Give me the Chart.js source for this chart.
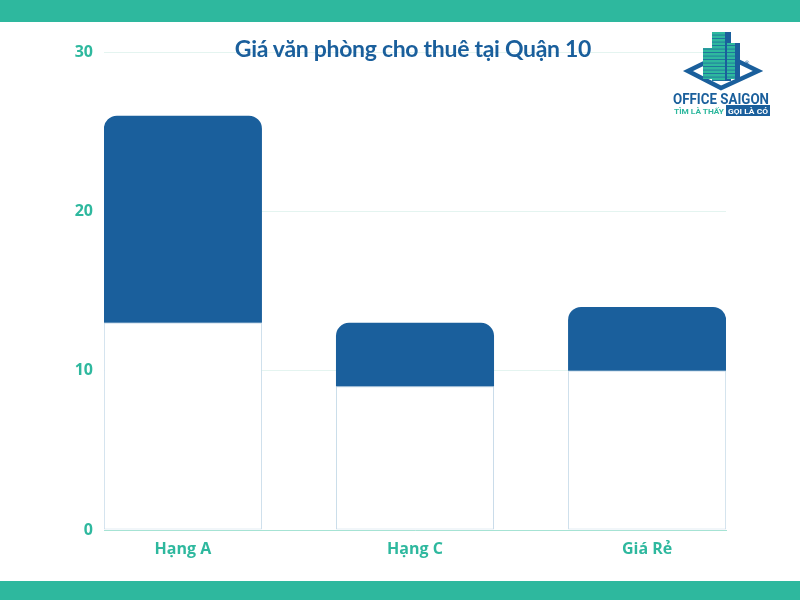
<!DOCTYPE html>
<html>
<head>
<meta charset="utf-8">
<script src="https://cdn.jsdelivr.net/npm/chart.js@4"></script>
<style>
  html, body { margin:0; padding:0; background:#ffffff; }
  #wrap { position:relative; width:800px; height:600px; overflow:hidden; background:#fff; }
  #chartBox { position:absolute; left:0; top:0; width:800px; height:600px; }
  .band { position:absolute; left:0; width:800px; background:#2eb89e; }
  #title { position:absolute; left:0; width:826px; top:34px; text-align:center;
           font-family:Lato, "Open Sans", sans-serif; font-weight:700; font-size:23px;
           color:#1a5f9c; letter-spacing:-0.3px; }
  #logo { position:absolute; left:660px; top:25px; }
</style>
</head>
<body>
<div id="wrap">
  <div id="chartBox"><canvas id="c"></canvas></div>
  <div class="band" style="top:0;height:22px;"></div>
  <div class="band" style="top:581px;height:19px;"></div>
  <div id="title">Giá văn phòng cho thuê tại Quận 10</div>
  <svg id="logo" width="140" height="110" viewBox="0 0 140 110">
    <defs>
      <pattern id="stripes" width="4" height="3.5" patternUnits="userSpaceOnUse">
        <rect width="4" height="3.5" fill="#2eb89e"/>
        <rect y="2.8" width="4" height="0.7" fill="#1a5f9c"/>
      </pattern>
    </defs>
    <polygon points="28,46 63,29 98,46 61,63" fill="none" stroke="#1a5f9c" stroke-width="4.5" stroke-linejoin="miter"/>
    <rect x="43" y="23" width="10" height="31" fill="url(#stripes)"/>
    <rect x="52" y="7" width="19" height="49" fill="url(#stripes)"/>
    <rect x="65" y="7" width="6" height="49" fill="#1a5f9c"/>
    <rect x="67" y="18" width="13" height="36" fill="url(#stripes)"/>
    <rect x="75" y="18" width="5" height="36" fill="#1a5f9c"/>
    <text x="84" y="40" font-family="DejaVu Sans" font-size="6" fill="#1a5f9c">®</text>
    <text x="13" y="79" font-family="'Liberation Sans Narrow', Roboto, sans-serif" font-weight="700" font-size="14" fill="#1a5f9c" textLength="96" lengthAdjust="spacingAndGlyphs">OFFICE SAIGON</text>
    <text x="14" y="89" font-family="Roboto, sans-serif" font-weight="700" font-size="8" fill="#2eb89e" textLength="50" lengthAdjust="spacingAndGlyphs">TÌM LÀ THẤY</text>
    <rect x="66" y="80" width="44" height="11" fill="#1a5f9c"/>
    <text x="68" y="89" font-family="Roboto, sans-serif" font-weight="700" font-size="8" fill="#ffffff" textLength="40" lengthAdjust="spacingAndGlyphs">GỌI LÀ CÓ</text>
  </svg>
</div>
<script>
const categories = ['Hạng A', 'Hạng C', 'Giá Rẻ'];
const lowValues  = [13, 9, 10];
const highValues = [26, 13, 14];
const yTicks = [0, 10, 20, 30];

const teal = '#2eb89e';
const blue = '#1a5f9c';
const tickFont = { family: '"Open Sans", "Noto Sans", sans-serif', weight: '700', size: 16 };

const positions = categories.map((_, i) => i);

new Chart(document.getElementById('c'), {
  type: 'bar',
  data: {
    datasets: [
      {
        label: 'low',
        data: positions.map(i => ({ x: i, y: [0, lowValues[i]] })),
        backgroundColor: '#ffffff',
        borderColor: '#c9dcea',
        borderWidth: 1,
        borderSkipped: false,
        barPercentage: 158 / 232,
        categoryPercentage: 1
      },
      {
        label: 'high',
        data: positions.map(i => ({ x: i, y: [lowValues[i], highValues[i]] })),
        backgroundColor: blue,
        borderWidth: 0,
        borderSkipped: false,
        borderRadius: { topLeft: 13, topRight: 13, bottomLeft: 0, bottomRight: 0 },
        barPercentage: 158 / 232,
        categoryPercentage: 1
      }
    ]
  },
  options: {
    responsive: true,
    maintainAspectRatio: false,
    animation: false,
    layout: { padding: { top: 52, right: 74, left: 0, bottom: 0 } },
    plugins: { legend: { display: false }, tooltip: { enabled: false }, title: { display: false } },
    scales: {
      x: {
        type: 'linear',
        offset: false,
        stacked: true,
        min: -0.34,
        max: categories.length - 1 + 0.34,
        afterBuildTicks: s => { s.ticks = positions.map(v => ({ value: v })); },
        afterFit: s => { s.height = 70; },
        grid: { display: false, drawTicks: false, offset: false },
        border: { display: true, color: '#a6e3d4', width: 1 },
        ticks: {
          color: teal, font: tickFont, padding: 10, maxRotation: 0, autoSkip: false,
          callback: v => categories[v] ?? ''
        }
      },
      y: {
        min: 0,
        max: 30,
        afterBuildTicks: s => { s.ticks = yTicks.map(v => ({ value: v })); },
        afterFit: s => { s.width = 104; },
        grid: { color: '#e4f4f0', lineWidth: 1, drawTicks: false },
        border: { display: false },
        ticks: { color: teal, font: tickFont, padding: 11 }
      }
    }
  }
});
</script>
</body>
</html>
